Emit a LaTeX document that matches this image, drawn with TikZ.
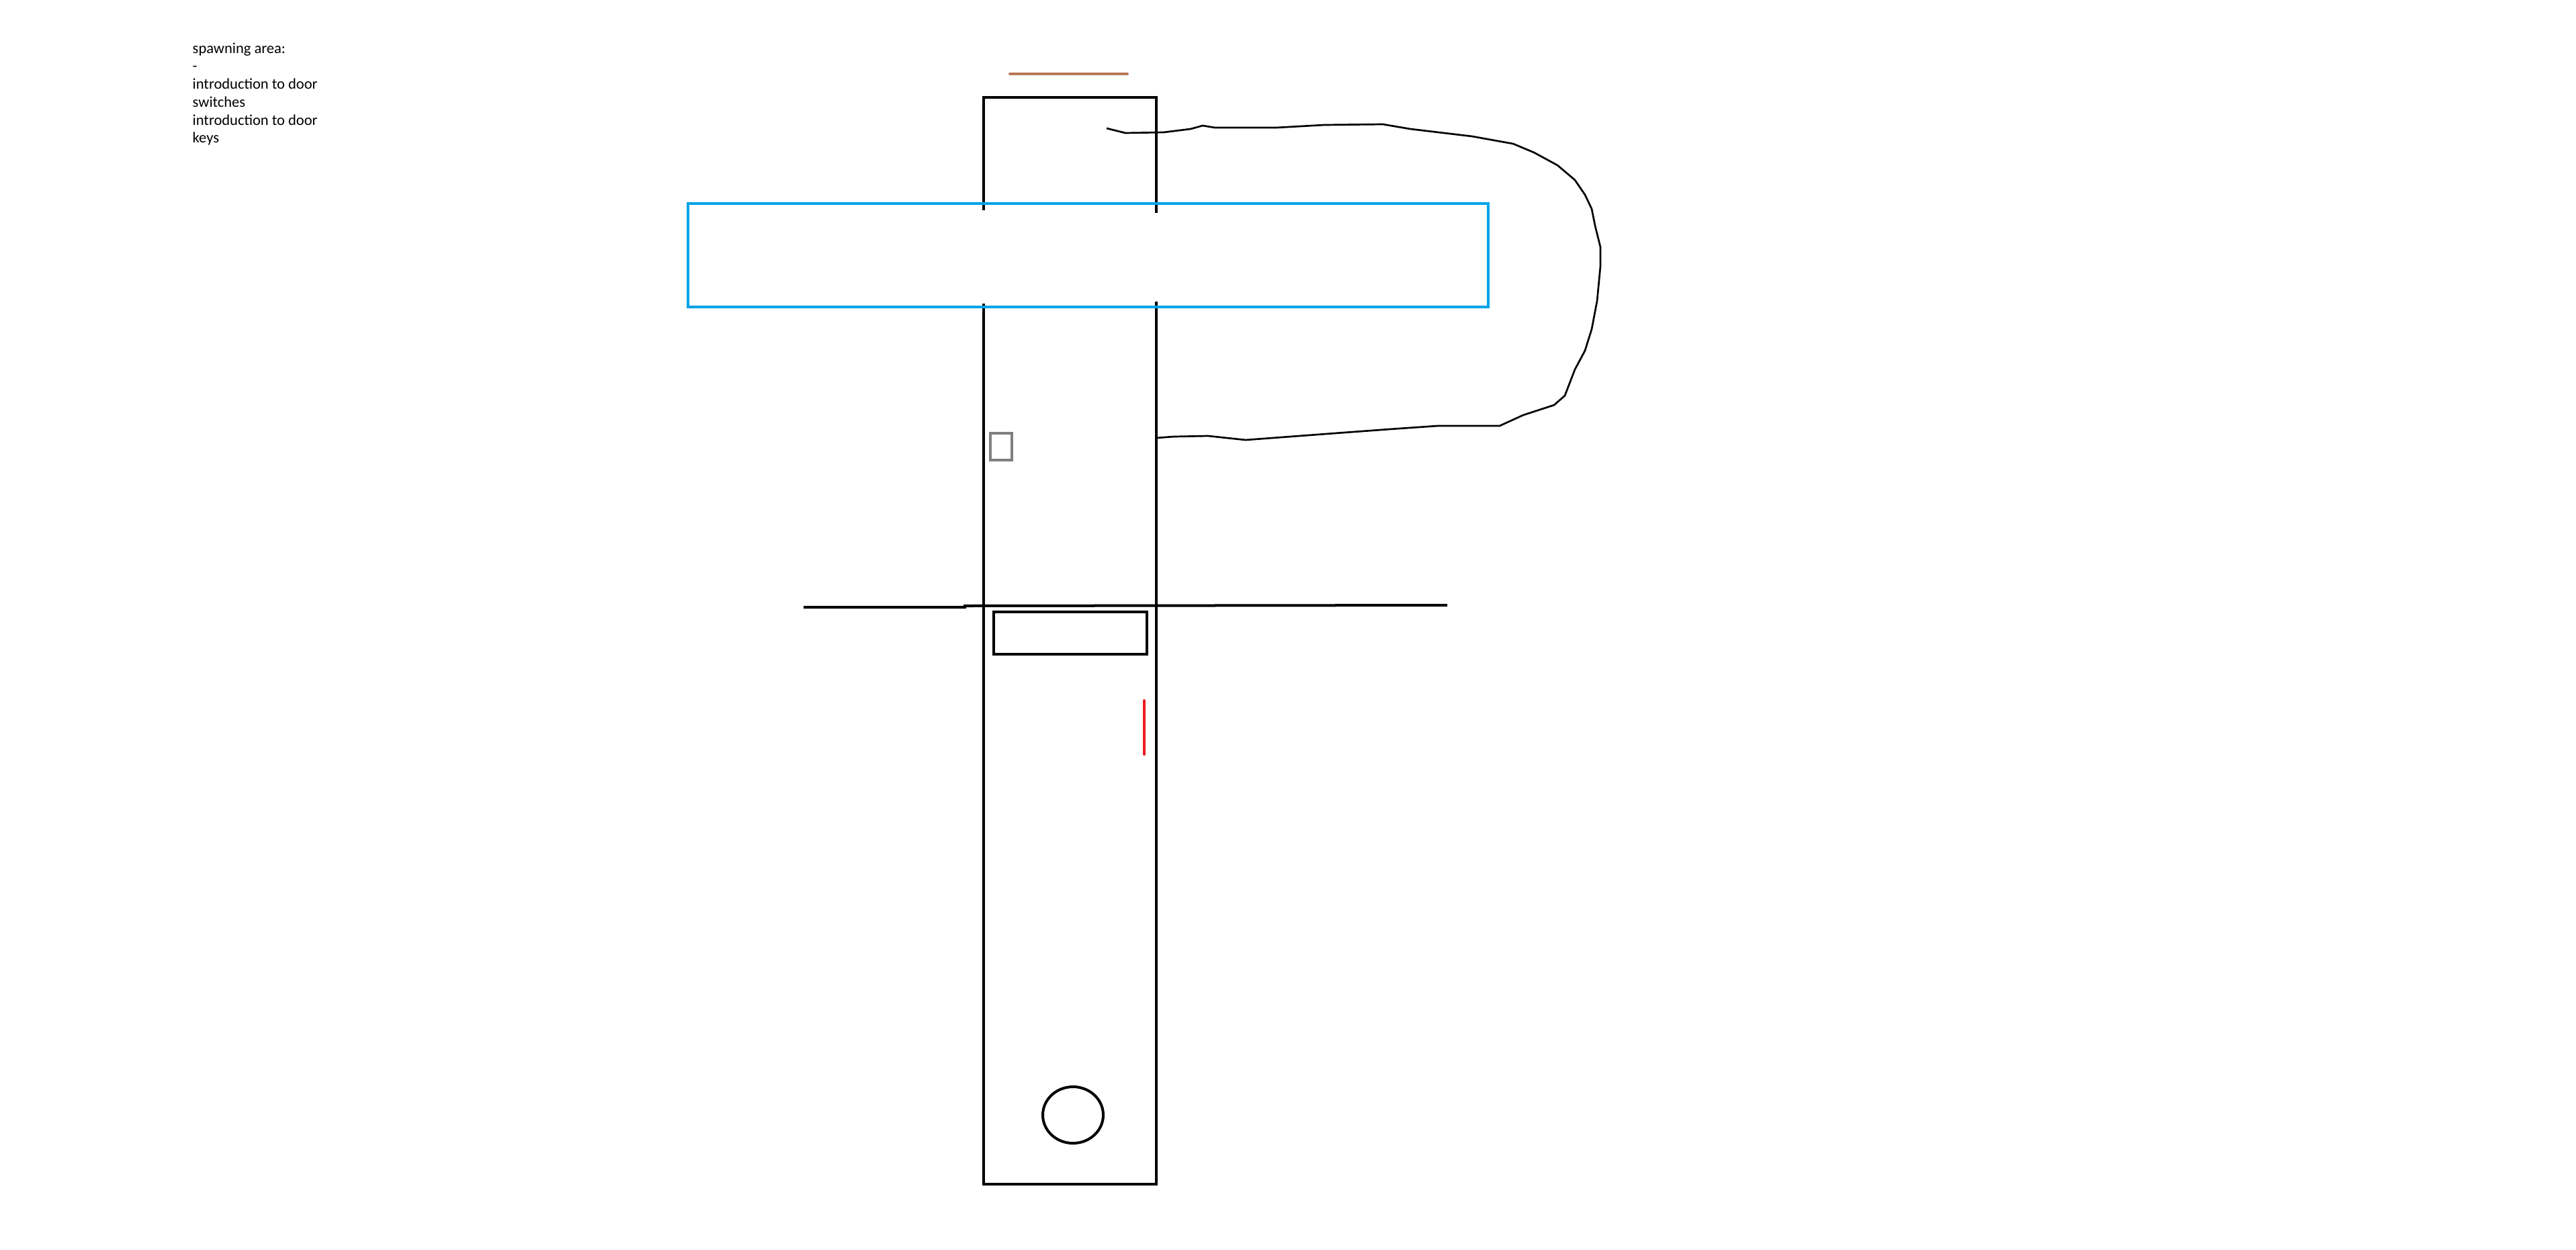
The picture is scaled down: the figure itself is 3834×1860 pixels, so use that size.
\documentclass[tikz,border=0pt]{standalone}
\usepackage{fontspec}
\setmainfont{Carlito}
\definecolor{paintblue}{HTML}{00A2E8}
\definecolor{paintred}{HTML}{ED1C24}
\definecolor{paintbrown}{HTML}{B97A57}
\definecolor{paintgray}{HTML}{7F7F7F}
\tikzset{
  wall/.style={line width=0.045cm, black},
  scribble/.style={line width=0.027cm, black, line join=round},
  bridge/.style={line width=0.04cm, paintblue},
  mark line/.style={line width=0.04cm, line cap=round},
}
\begin{document}
\begin{tikzpicture}[x=0.01cm,y=-0.01cm]
\useasboundingbox (0,0) rectangle (3834,1860);

\node[anchor=north west, align=left, inner sep=0, font=\fontsize{6.4}{7.6}\selectfont] (notes) at (286,63)
  {spawning area:\\-\\introduction to door\\switches\\introduction to door\\keys};

% corridor, open where the bridge crosses
\draw[wall] (1464,313) -- (1464,145) -- (1721,145) -- (1721,317);
\draw[wall] (1464,452) -- (1464,1763) -- (1721,1763) -- (1721,449);

% bridge across
\draw[bridge] (1024,303) rectangle (2215,457);

% top marker
\draw[mark line, paintbrown] (1503,110) -- (1678,110);

% loop path
\draw[scribble] (1647,191) -- (1675,198) -- (1732,197) -- (1772,192) -- (1790,187) -- (1808,190)
  -- (1900,190) -- (1971,186) -- (2058,185) -- (2099,192) -- (2191,203) -- (2252,214)
  -- (2283,227) -- (2318,246) -- (2344,268) -- (2359,290) -- (2369,311) -- (2374,336)
  -- (2382,368) -- (2382,396) -- (2377,448) -- (2369,490) -- (2359,522) -- (2344,550)
  -- (2329,589) -- (2313,603) -- (2267,618) -- (2232,634) -- (2201,634) -- (2140,634)
  -- (2068,639) -- (1987,645) -- (1854,655) -- (1798,649) -- (1747,650) -- (1721,652);

% switch
\draw[line width=0.045cm, paintgray] (1474,645) rectangle (1506,685);

% door line
\draw[wall, line width=0.04cm] (1196,904) -- (1436,904) -- (1436,902) -- (2154,901);
\draw[wall, line width=0.04cm] (1479,911) rectangle (1707,974);

% key
\draw[mark line, paintred] (1703,1043) -- (1703,1123);

% spawn point
\draw[wall, line width=0.04cm] (1597,1660) ellipse [x radius=45, y radius=42];
\end{tikzpicture}
\end{document}
